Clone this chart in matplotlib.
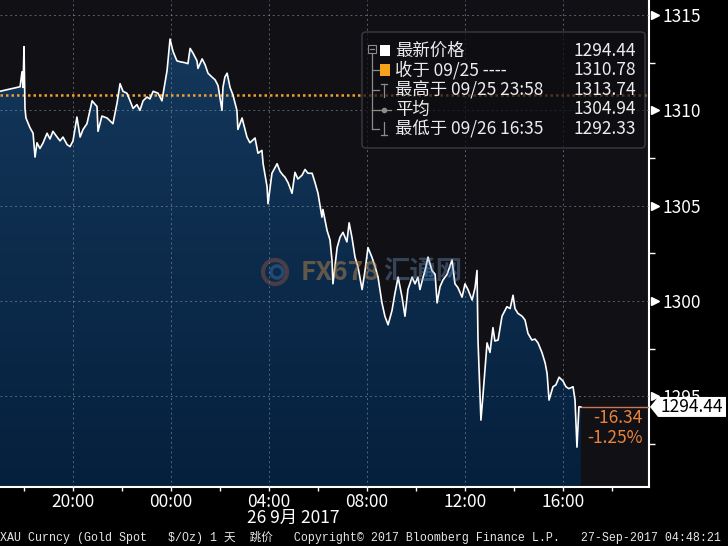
import matplotlib
matplotlib.use('Agg')
import matplotlib.pyplot as plt
import matplotlib.transforms as mtransforms
from matplotlib.patches import Polygon, FancyBboxPatch, Rectangle, Ellipse
from matplotlib.lines import Line2D
from matplotlib.colors import LinearSegmentedColormap
import numpy as np

plt.rcParams['font.family'] = ['Noto Sans CJK SC', 'DejaVu Sans']

# hours relative to 00:00 on 26 Sep 2017
hours = [-6.98, -6.16, -6.08, -6.04, -6.00, -5.96, -5.92, -5.76, -5.63, -5.55,
         -5.47, -5.35, -5.22, -5.06, -4.94, -4.82, -4.65, -4.53, -4.41, -4.24,
         -4.12, -4.00, -3.84, -3.71, -3.59, -3.43, -3.22, -3.02, -2.98, -2.82,
         -2.61, -2.37, -2.20, -2.08, -1.96, -1.80, -1.67, -1.55, -1.39, -1.27,
         -1.14, -0.98, -0.86, -0.73, -0.53, -0.37, -0.24, -0.16, -0.04, 0.08,
         0.24, 0.37, 0.57, 0.69, 0.78, 0.90, 1.06, 1.10, 1.27, 1.39,
         1.51, 1.67, 1.80, 1.92, 2.08, 2.12, 2.20, 2.29, 2.41, 2.53,
         2.69, 2.73, 2.90, 3.02, 3.10, 3.22, 3.43, 3.55, 3.71, 3.76,
         3.92, 3.96, 4.12, 4.33, 4.45, 4.57, 4.65, 4.78, 4.94, 5.06,
         5.18, 5.35, 5.47, 5.59, 5.76, 5.88, 6.00, 6.16, 6.20, 6.37,
         6.49, 6.57, 6.61, 6.78, 6.90, 7.02, 7.18, 7.27, 7.39, 7.51,
         7.63, 7.80, 7.92, 8.04, 8.20, 8.33, 8.45, 8.61, 8.73, 8.86,
         9.02, 9.14, 9.27, 9.43, 9.55, 9.67, 9.84, 9.96, 10.08, 10.16,
         10.29, 10.37, 10.49, 10.65, 10.78, 10.86, 10.98, 11.10, 11.27, 11.47,
         11.59, 11.71, 11.88, 12.00, 12.12, 12.29, 12.41, 12.49, 12.53, 12.61,
         12.65, 12.73, 12.82, 12.90, 13.02, 13.14, 13.22, 13.35, 13.51, 13.63,
         13.71, 13.84, 13.96, 14.04, 14.16, 14.33, 14.45, 14.57, 14.73, 14.86,
         14.98, 15.14, 15.27, 15.35, 15.43, 15.59, 15.71, 15.84, 16.00, 16.12,
         16.24, 16.41, 16.49, 16.57, 16.65, 16.73]

price = [1311.0, 1311.24, 1312.03, 1311.2, 1313.34, 1310.1, 1309.6, 1309.1, 1308.8, 1307.55,
         1308.3, 1308.0, 1308.3, 1308.8, 1308.5, 1308.9, 1308.6, 1308.4, 1308.6, 1308.2,
         1308.1, 1308.4, 1309.65, 1308.6, 1309.0, 1309.3, 1310.5, 1310.2, 1308.9, 1309.7,
         1309.6, 1309.3, 1310.4, 1311.4, 1311.0, 1310.9, 1310.5, 1310.1, 1310.3, 1310.0,
         1310.5, 1310.7, 1310.6, 1311.0, 1310.9, 1310.5, 1311.5, 1312.1, 1313.74, 1313.1,
         1312.6, 1312.55, 1312.5, 1312.45, 1313.25, 1313.0, 1312.6, 1312.2, 1312.7, 1312.4,
         1311.95, 1311.75, 1311.6, 1311.3, 1310.0, 1311.2, 1311.75, 1311.95, 1311.2, 1310.8,
         1310.0, 1309.0, 1309.6, 1309.0, 1308.6, 1308.3, 1308.55, 1307.75, 1307.9, 1307.2,
         1306.0, 1305.1, 1306.7, 1307.2, 1306.8, 1306.6, 1306.5, 1306.2, 1305.65, 1306.75,
         1306.4, 1306.6, 1306.9, 1306.7, 1306.7, 1306.2, 1305.65, 1304.4, 1304.8, 1303.7,
         1303.2, 1302.15, 1300.9, 1302.8, 1303.35, 1303.6, 1303.1, 1304.1, 1303.3, 1302.3,
         1301.8, 1300.6, 1301.6, 1302.8, 1302.3, 1301.8, 1301.25, 1299.9, 1299.2, 1298.75,
         1299.5, 1300.4, 1301.25, 1300.2, 1299.2, 1300.6, 1301.25, 1300.9, 1301.25, 1300.6,
         1301.25, 1301.6, 1302.3, 1301.6, 1301.4, 1299.9, 1300.75, 1301.1, 1301.4, 1302.15,
         1300.9, 1300.7, 1300.2, 1300.9, 1300.6, 1300.05, 1300.7, 1301.6, 1297.95, 1295.2,
         1293.75, 1295.0, 1296.5, 1297.8, 1297.3, 1298.6, 1297.9, 1297.95, 1299.2, 1299.5,
         1299.7, 1299.6, 1300.3, 1299.6, 1299.35, 1299.2, 1299.0, 1298.3, 1297.95, 1298.0,
         1297.8, 1297.3, 1296.75, 1296.2, 1294.8, 1295.5, 1295.6, 1296.0, 1295.8, 1295.5,
         1295.4, 1295.5, 1294.8, 1292.33, 1294.45, 1294.44]

prev_close = 1310.78
legend_labels = ['最新价格', '收于 09/25 ----', '最高于 09/25 23:58', '平均', '最低于 09/26 16:35']
legend_values = [1294.44, 1310.78, 1313.74, 1304.94, 1292.33]
x_ticks = [-4, 0, 4, 8, 12, 16]
x_minor = [-6, -2, 2, 6, 10, 14, 18]
x_labels = ['20:00', '00:00', '04:00', '08:00', '12:00', '16:00']
y_ticks = [1295, 1300, 1305, 1310, 1315]
y_minor = [1292.5, 1297.5, 1302.5, 1307.5, 1312.5]
date_label = '26 9月 2017'
footer = 'XAU Curncy (Gold Spot   $/Oz) 1 天  跳价   Copyright© 2017 Bloomberg Finance L.P.   27-Sep-2017 04:48:21'

assert len(hours) == len(price)

W, H = 728, 546
fig = plt.figure(figsize=(W / 100, H / 100), dpi=100, facecolor='black')


def fx(px):
    return px / W


def fy(py):
    return 1 - py / H


ax = fig.add_axes([0, fy(487), fx(649), 487 / H])
ax.set_facecolor('#111015')
xmin, xmax = -6.98, 19.51
ymin, ymax = 1290.24, 1315.79

# gradient area under the price line
grad = np.linspace(1, 0, 256).reshape(-1, 1)
cmap = LinearSegmentedColormap.from_list('fill', ['#05203d', '#15395d'])
img = ax.imshow(grad, extent=[xmin, xmax, ymin, ymax], aspect='auto', cmap=cmap,
                origin='upper', zorder=1)
verts = [(hours[0], ymin)] + list(zip(hours, price)) + [(hours[-1], ymin)]
clip = Polygon(verts, closed=True, facecolor='none', edgecolor='none', transform=ax.transData)
ax.add_patch(clip)
img.set_clip_path(clip)

ax.plot(hours, price, color='white', lw=1.2, zorder=3)
ax.axhline(prev_close, color='#f0a030', lw=1.8, ls=(0, (1, 1.2)), zorder=2.7)
ax.hlines(price[-1], hours[-1], xmax, color='#c9785a', lw=1, zorder=2.7)

ax.set_xlim(xmin, xmax)
ax.set_ylim(ymin, ymax)
ax.set_xticks(x_ticks)
ax.set_xticklabels(x_labels)
ax.set_xticks(x_minor, minor=True)
ax.set_yticks(y_ticks)
ax.set_yticks(y_minor, minor=True)
ax.yaxis.tick_right()
ax.grid(True, color='#8595a5', lw=0.7, ls=(0, (2, 3)), alpha=0.6)
ax.set_axisbelow(False)

for s in ['top', 'left']:
    ax.spines[s].set_visible(False)
for s in ['right', 'bottom']:
    ax.spines[s].set_color('white')
    ax.spines[s].set_linewidth(1.5)

ax.tick_params(axis='y', which='major', length=0, pad=9.5, labelcolor='white', labelsize=12.5)
ax.tick_params(axis='y', which='minor', length=4, width=1, color='white')
ax.tick_params(axis='x', which='both', length=3, width=1, color='white',
               labelcolor='white', labelsize=12.5, pad=1)

# arrow markers next to y labels
blend = mtransforms.blended_transform_factory(ax.transAxes, ax.transData)
ax.plot([1.009] * len(y_ticks), y_ticks, ls='none', marker='>', ms=6, color='white',
        transform=blend, clip_on=False, zorder=5)

# date label under the time axis
dblend = mtransforms.blended_transform_factory(ax.transData, fig.transFigure)
ax.text(5.0, fy(518), date_label, transform=dblend, ha='center', va='center',
        color='white', fontsize=12.5)

# last price box
disp = ax.transData.transform((xmax, price[-1]))
py = H - disp[1]
box = [(650, py), (658, py - 10), (726, py - 10), (726, py + 10), (658, py + 10)]
fig.add_artist(Polygon([(fx(a), fy(b)) for a, b in box], closed=True,
                       transform=fig.transFigure, fc='white', ec='none', zorder=5))
fig.text(fx(692), fy(py), f'{price[-1]:.2f}', ha='center', va='center', color='black',
         fontsize=12.5, zorder=6)
chg = price[-1] - prev_close
pct = chg / prev_close * 100
fig.text(fx(643), fy(py + 11), f'{chg:.2f}', ha='right', va='center', color='#e8843c', fontsize=12.5)
fig.text(fx(643), fy(py + 31), f'{pct:.2f}%', ha='right', va='center', color='#e8843c', fontsize=12.5)

# legend box
fig.add_artist(FancyBboxPatch((fx(362), fy(148)), fx(645 - 362), (148 - 32) / H,
                              boxstyle='round,pad=0,rounding_size=0.006',
                              transform=fig.transFigure, fc=(0.055, 0.055, 0.07, 0.72),
                              ec='#3a3a42', lw=1, zorder=4))
rows = [50.5, 70, 90, 109.5, 129]
for lab, val, r in zip(legend_labels, legend_values, rows):
    fig.text(fx(395), fy(r), lab, ha='left', va='center', color='#ececec', fontsize=12.5, zorder=6)
    fig.text(fx(636), fy(r), f'{val:.2f}', ha='right', va='center', color='#ececec',
             fontsize=12.5, zorder=6)

gray = '#8c8c8c'


def seg(x0, y0, x1, y1, **kw):
    fig.add_artist(Line2D([fx(x0), fx(x1)], [fy(y0), fy(y1)], transform=fig.transFigure,
                          color=kw.get('color', gray), lw=kw.get('lw', 0.9), zorder=6))


seg(372, 54, 372, rows[4])
for r in rows[1:]:
    seg(372, r, 379, r)
fig.add_artist(Rectangle((fx(368), fy(53)), 8 / W, 8 / H, fill=False, ec=gray, lw=0.8,
                         transform=fig.transFigure, zorder=6))
seg(370, 49, 374, 49)
fig.add_artist(Rectangle((fx(380), fy(rows[0] + 5.5)), 10 / W, 11 / H, fc='white', ec='none',
                         transform=fig.transFigure, zorder=6))
fig.add_artist(Rectangle((fx(380), fy(rows[1] + 5.5)), 10 / W, 11 / H, fc='#f7a21b', ec='none',
                         transform=fig.transFigure, zorder=6))
seg(384, rows[2] - 6, 384, rows[2] + 7)
seg(381, rows[2] - 6, 387, rows[2] - 6)
seg(379, rows[3], 391, rows[3])
fig.add_artist(Line2D([fx(384)], [fy(rows[3])], marker='o', ms=3, color=gray,
                      transform=fig.transFigure, zorder=6))
seg(384, rows[4] - 7, 384, rows[4] + 6)
seg(381, rows[4] + 6, 387, rows[4] + 6)

# watermark
fig.add_artist(Ellipse((fx(275), fy(272)), 24 / W, 24 / H, fill=False, ec='#c0603a', lw=3,
                       alpha=0.35, transform=fig.transFigure, zorder=4))
fig.add_artist(Ellipse((fx(277), fy(272)), 12 / W, 12 / H, fill=False, ec='#4a7ab0', lw=2.5,
                       alpha=0.4, transform=fig.transFigure, zorder=4))
fig.text(fx(301), fy(272), 'FX678', ha='left', va='center', color='#b8854a', alpha=0.5,
         fontsize=19, fontweight='bold', zorder=4)
fig.text(fx(383), fy(272), '汇通网', ha='left', va='center', color='#7aa6d6', alpha=0.35,
         fontsize=19, fontweight='bold', zorder=4)

fig.text(0, fy(537), footer, ha='left', va='center', color='#e6e6e6', fontsize=8.4,
         family=['Liberation Mono', 'Noto Sans CJK SC'])

fig.savefig('out.png', dpi=100, facecolor='black')
